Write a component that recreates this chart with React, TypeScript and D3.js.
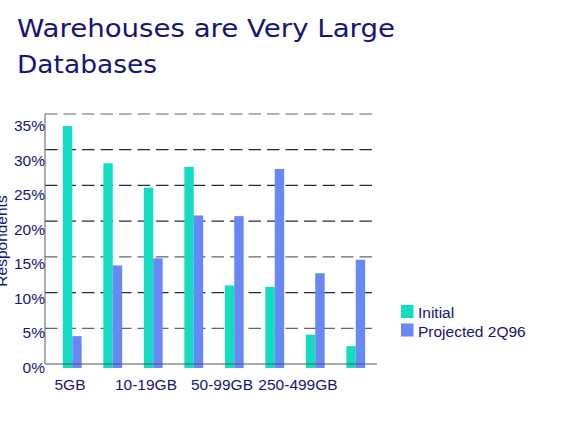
import React from "react";
import * as d3 from "d3";

const categories = ["g1", "g2", "g3", "g4", "g5", "g6", "g7", "g8"];
const initialValues = [33.3, 28.1, 24.7, 27.6, 11.0, 10.8, 4.1, 2.5];
const projectedValues = [3.9, 13.8, 14.8, 20.8, 20.7, 27.3, 12.7, 14.6];
const xTickLabels = ["5GB", "10-19GB", "50-99GB", "250-499GB"];
const yTicks = [0, 5, 10, 15, 20, 25, 30, 35];
const seriesNames = ["Initial", "Projected 2Q96"];
const seriesColors = ["#14DCC2", "#6888F6"];

const W = 563;
const H = 441;
const NAVY = "#14147a";
const FONT = "'Liberation Sans', Arial, sans-serif";

export default function App() {
  const axisX = 45;
  const plotRight = 377;
  const y = d3.scaleLinear().domain([0, 35]).range([364, 114]);
  const yLabel = d3.scaleLinear().domain([0, 35]).range([367, 125.5]);
  const band = d3.scaleBand().domain(categories).range([52, 376]).paddingInner(0).paddingOuter(0);
  const barW = 9.4;
  const xLab = d3.scalePoint().domain(xTickLabels).range([70, 298]);
  const barBottom = y(0) + 4;

  return (
    <svg
      width={W}
      height={H}
      style={{ position: "absolute", left: 0, top: 0, background: "#fff" }}
      fontFamily={FONT}
    >
      <rect x={0} y={0} width={W} height={H} fill="#fff" />
      <text
        x={17}
        y={37}
        fill={NAVY}
        fontFamily="'Comic Sans MS', 'DejaVu Sans', sans-serif"
        fontSize={25.5}
        textLength={378}
        lengthAdjust="spacingAndGlyphs"
      >
        Warehouses are Very Large
      </text>
      <text
        x={17}
        y={73.3}
        fill={NAVY}
        fontFamily="'Comic Sans MS', 'DejaVu Sans', sans-serif"
        fontSize={25.5}
        textLength={140}
        lengthAdjust="spacingAndGlyphs"
      >
        Databases
      </text>

      {/* gridlines */}
      {yTicks
        .filter((t) => t > 0)
        .map((t) => (
          <line
            key={"g" + t}
            x1={axisX}
            x2={plotRight}
            y1={y(t)}
            y2={y(t)}
            stroke={t === 35 || t === 15 || t === 5 ? "#666" : "#2a2a3a"}
            strokeWidth={1.2}
            strokeDasharray="12.5,6"
          />
        ))}

      {/* bars */}
      {categories.map((c, i) => {
        const cx = (band(c) as number) + band.bandwidth() / 2;
        return (
          <g key={c}>
            <rect
              x={cx - barW}
              y={y(initialValues[i])}
              width={barW}
              height={barBottom - y(initialValues[i])}
              fill={seriesColors[0]}
            />
            <rect
              x={cx}
              y={y(projectedValues[i])}
              width={barW}
              height={barBottom - y(projectedValues[i])}
              fill={seriesColors[1]}
            />
          </g>
        );
      })}

      {/* axes */}
      <line x1={axisX} x2={axisX} y1={y(35)} y2={y(0)} stroke="#777" strokeWidth={1.2} />
      <line x1={axisX} x2={plotRight} y1={y(0)} y2={y(0)} stroke="#555" strokeWidth={1.2} />

      {yTicks.map((t) => (
        <text
          key={"yl" + t}
          x={45}
          y={yLabel(t)}
          textAnchor="end"
          dominantBaseline="central"
          fill={NAVY}
          fontSize={15.5}
        >
          {t + "%"}
        </text>
      ))}

      {xTickLabels.map((l) => (
        <text
          key={l}
          x={xLab(l)}
          y={390}
          textAnchor="middle"
          fill={NAVY}
          fontSize={15.5}
        >
          {l}
        </text>
      ))}

      <text
        transform={`translate(7,241) rotate(-90)`}
        textAnchor="middle"
        fill={NAVY}
        fontSize={15.5}
      >
        Respondents
      </text>

      {/* legend */}
      {seriesNames.map((s, i) => (
        <g key={s}>
          <rect x={401} y={305 + i * 18.5} width={12.5} height={13} fill={seriesColors[i]} />
          <text x={418} y={318 + i * 18.5} fill={NAVY} fontSize={15.5}>
            {s}
          </text>
        </g>
      ))}
    </svg>
  );
}
